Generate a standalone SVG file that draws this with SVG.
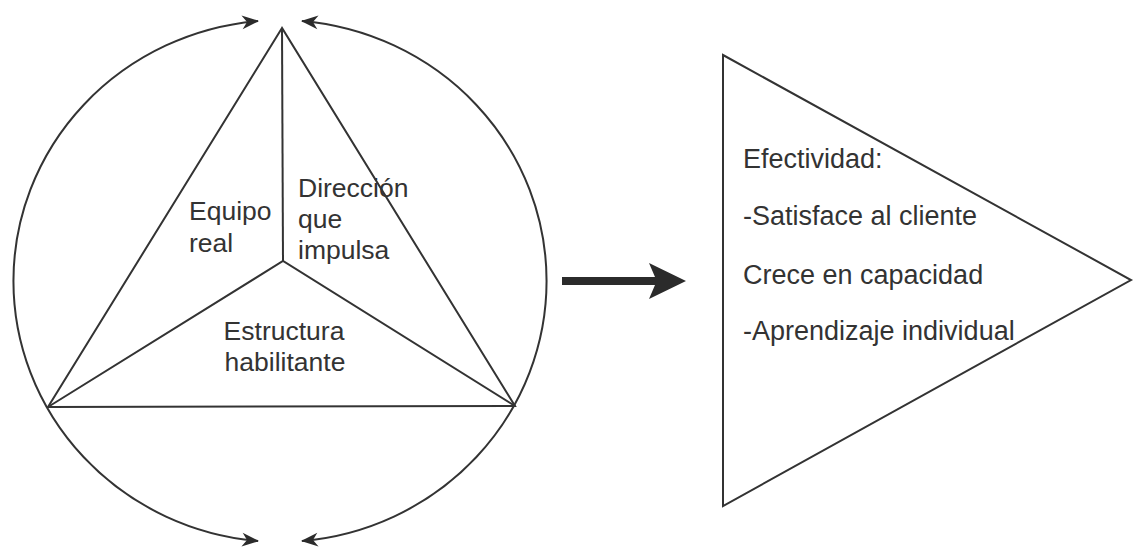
<svg xmlns="http://www.w3.org/2000/svg" width="1134" height="549" viewBox="0 0 1134 549">
<style>
.ln{fill:none;stroke:#333;stroke-width:2;stroke-linejoin:miter}
.lbl{font-family:"Liberation Sans",Arial,sans-serif;font-size:26.5px;fill:#333}
.rt{font-family:"Liberation Sans",Arial,sans-serif;font-size:27px;fill:#333}
</style>
<defs>
<marker id="ah" markerUnits="userSpaceOnUse" markerWidth="20" markerHeight="16" viewBox="-17 -8 19 16" refX="0" refY="0" orient="auto-start-reverse">
<path d="M1,0 L-16,-7 L-11,0 L-16,7 Z" fill="#2b2b2b"/>
</marker>
</defs>
<rect width="1134" height="549" fill="#fff"/>
<g id="connectors">
<path class="ln" d="M258,21 A268,261 0 0 0 258,541" marker-start="url(#ah)" marker-end="url(#ah)"/>
<path class="ln" d="M302,21 A268,261 0 0 1 302,541" marker-start="url(#ah)" marker-end="url(#ah)"/>
<path d="M562,277 L655,277 L649,263 L686,281 L649,299 L655,285 L562,285 Z" fill="#2b2b2b"/>
</g>
<g id="triangle">
<polygon class="ln" points="282,28 48,407 515,406"/>
<polyline class="ln" points="282,28 283,261"/>
<polyline class="ln" points="48,407 283,261 515,406"/>
</g>
<g id="equipo-real">
<text class="lbl" x="189" y="220">Equipo</text>
<text class="lbl" x="189" y="252">real</text>
</g>
<g id="direccion">
<text class="lbl" x="298" y="197">Dirección</text>
<text class="lbl" x="298" y="228">que</text>
<text class="lbl" x="298" y="259">impulsa</text>
</g>
<g id="estructura">
<text class="lbl" x="284" y="340" text-anchor="middle" font-size="27">Estructura</text>
<text class="lbl" x="285" y="371" text-anchor="middle" font-size="27">habilitante</text>
</g>
<g id="efectividad">
<polygon class="ln" points="723,55 1131,280 723,506"/>
<text class="rt" x="743" y="168">Efectividad:</text>
<text class="rt" x="743" y="225">-Satisface al cliente</text>
<text class="rt" x="743" y="284">Crece en capacidad</text>
<text class="rt" x="743" y="340">-Aprendizaje individual</text>
</g>
</svg>
